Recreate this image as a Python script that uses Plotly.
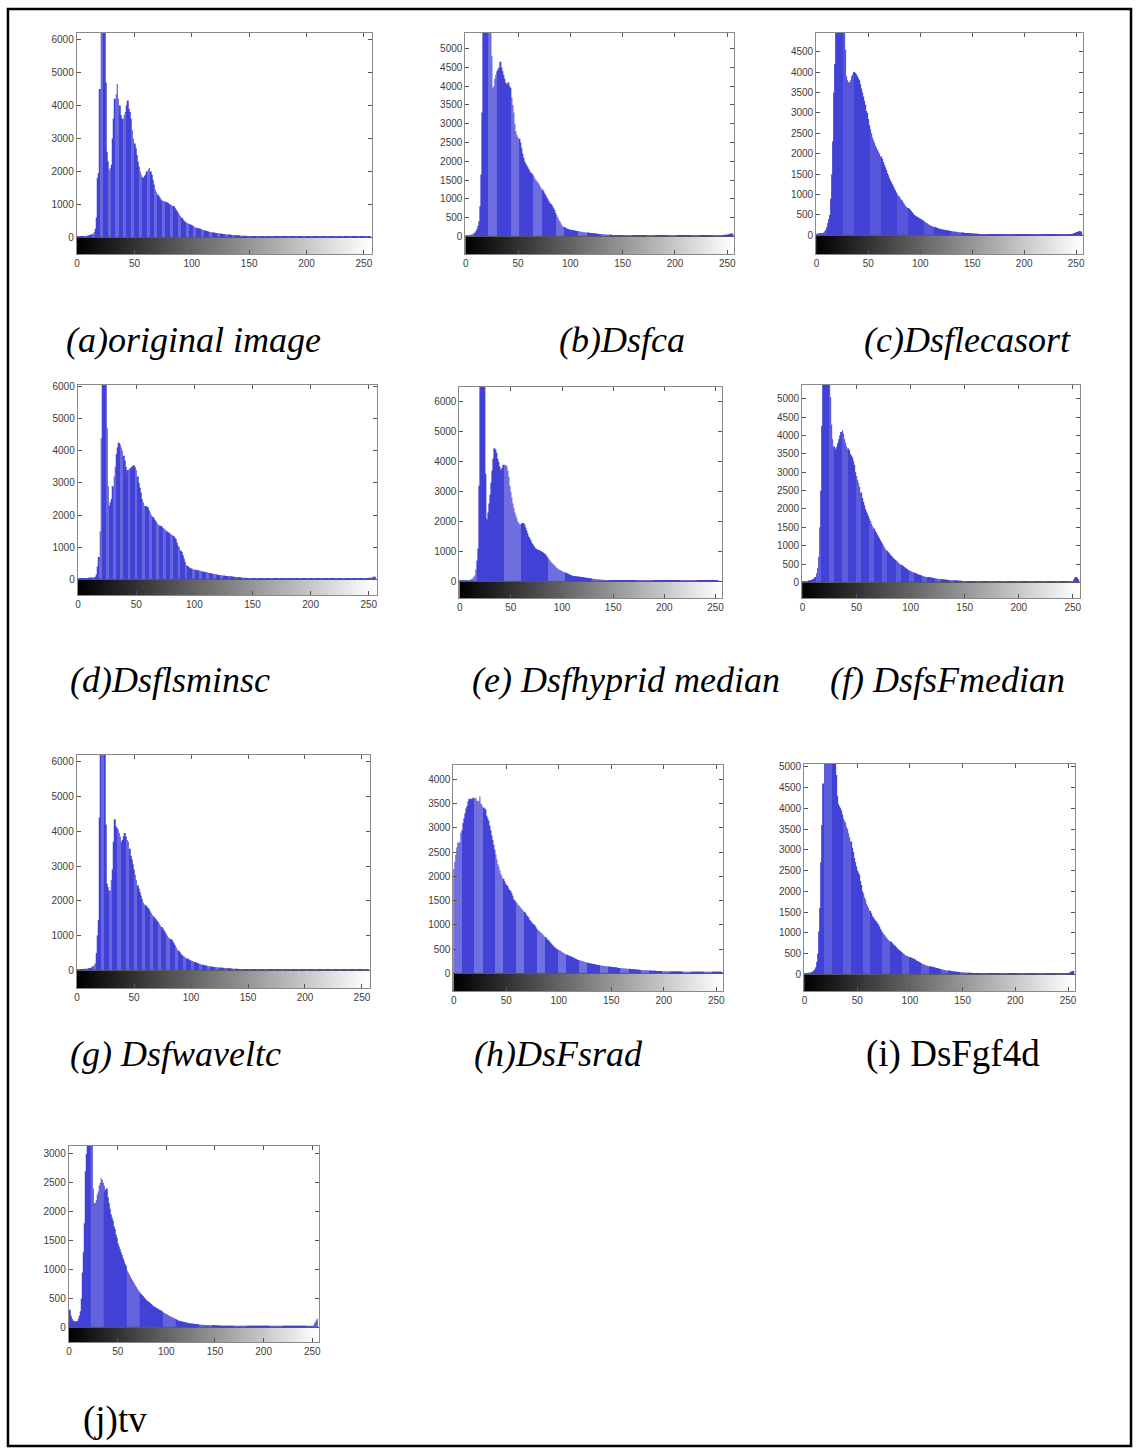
import plotly.graph_objects as go

W, H = 1137, 1448
GRAY_LEVELS = list(range(256))

ORIGINAL = [
    30, 30, 32, 34, 36, 38, 40, 44, 48, 52, 58, 66, 78, 95, 120, 160,
    260, 600, 1800, 1950, 4500, 7200, 7600, 7400, 6900, 4700, 2600, 2300, 2050, 2100, 2200, 3000,
    3600, 4200, 4350, 4650, 4200, 4000, 3700, 3600, 3600, 3700, 3800, 4000, 4150, 3900, 3800, 3600,
    3250, 3000, 2850, 2700, 2500, 2300, 2150, 2000, 1900, 1820, 1800, 1850, 1900, 2000, 2050, 2100,
    2000, 1900, 1750, 1600, 1450, 1380, 1300, 1250, 1200, 1150, 1120, 1100, 1100, 1080, 1060, 1050,
    1020, 1000, 980, 960, 950, 900, 850, 800, 750, 700, 650, 600, 550, 500, 480, 450,
    430, 420, 400, 380, 370, 350, 320, 300, 290, 280, 270, 260, 250, 240, 220, 210,
    200, 190, 180, 170, 160, 155, 150, 145, 140, 135, 130, 125, 120, 115, 110, 105,
    100, 98, 95, 90, 85, 82, 80, 75, 70, 68, 65, 62, 60, 58, 55, 52,
    50, 48, 45, 42, 40, 38, 35, 33, 32, 30, 30, 29, 28, 28, 27, 27,
    26, 26, 25, 25, 25, 24, 24, 24, 23, 23, 23, 22, 22, 22, 22, 22,
    21, 21, 22, 20, 21, 20, 21, 20, 19, 20, 21, 20, 19, 20, 21, 20,
    20, 19, 21, 20, 20, 19, 21, 20, 20, 19, 20, 21, 20, 19, 20, 20,
    21, 20, 19, 20, 20, 21, 20, 19, 20, 20, 21, 20, 19, 20, 20, 21,
    20, 19, 20, 21, 20, 20, 19, 20, 21, 20, 20, 19, 20, 21, 20, 20,
    19, 20, 21, 20, 20, 19, 20, 21, 20, 20, 21, 22, 24, 26, 28, 30,
]

DSFCA = [
    30, 32, 34, 36, 40, 45, 50, 60, 80, 100, 140, 200, 280, 400, 800, 1650,
    3300, 6000, 6500, 6800, 7000, 6800, 6600, 6200, 5800, 4800, 3950, 4000, 4200, 4300, 4400, 4450,
    4500, 4650, 4500, 4400, 4300, 4200, 4100, 4050, 4050, 4100, 4000, 3950, 3700, 3500, 3300, 3000,
    2800, 2700, 2650, 2600, 2500, 2350, 2200, 2100, 2000, 1950, 1900, 1850, 1800, 1750, 1700, 1680,
    1650, 1600, 1550, 1500, 1470, 1440, 1400, 1350, 1300, 1250, 1200, 1150, 1100, 1050, 1000, 950,
    900, 870, 850, 800, 750, 700, 620, 560, 500, 440, 400, 350, 300, 270, 250, 230,
    210, 200, 190, 180, 175, 170, 165, 160, 155, 150, 145, 140, 135, 130, 125, 120,
    115, 110, 108, 105, 100, 98, 95, 92, 88, 85, 80, 78, 75, 72, 70, 66,
    62, 60, 58, 56, 54, 52, 50, 48, 46, 44, 42, 40, 39, 38, 37, 36,
    35, 34, 33, 32, 31, 30, 30, 29, 29, 28, 28, 27, 27, 27, 26, 26,
    25, 26, 25, 24, 25, 26, 25, 24, 25, 25, 24, 25, 26, 25, 24, 25,
    25, 24, 25, 26, 25, 24, 25, 25, 26, 24, 25, 25, 24, 25, 26, 25,
    24, 25, 25, 26, 25, 24, 25, 25, 24, 26, 25, 24, 25, 25, 26, 25,
    25, 24, 26, 25, 25, 24, 25, 26, 25, 24, 25, 25, 26, 25, 24, 25,
    26, 25, 24, 25, 26, 25, 25, 24, 26, 25, 25, 26, 27, 28, 30, 32,
    30, 30, 32, 32, 34, 34, 36, 38, 40, 42, 45, 50, 60, 70, 75, 70,
]

DSFLECASORT = [
    40, 45, 50, 52, 55, 58, 60, 70, 100, 140, 200, 300, 400, 500, 900, 1500,
    2300, 3500, 4200, 5200, 5600, 5800, 6000, 6000, 5900, 5700, 5500, 5300, 4550, 3900, 3800, 3750,
    3750, 3800, 3900, 3950, 4000, 3980, 3950, 3900, 3850, 3800, 3700, 3600, 3500, 3400, 3300, 3200,
    3050, 3000, 2850, 2700, 2600, 2500, 2400, 2330, 2270, 2200, 2150, 2100, 2050, 2000, 1930, 1870,
    1800, 1730, 1670, 1600, 1530, 1470, 1400, 1350, 1300, 1250, 1200, 1150, 1100, 1050, 1000, 960,
    950, 900, 870, 850, 800, 760, 720, 700, 670, 650, 620, 590, 560, 530, 500, 480,
    470, 450, 435, 420, 405, 390, 380, 360, 340, 320, 305, 290, 270, 255, 240, 230,
    220, 210, 200, 190, 180, 170, 160, 155, 150, 145, 140, 135, 130, 125, 122, 120,
    115, 110, 105, 100, 95, 92, 90, 86, 82, 78, 75, 72, 70, 67, 64, 61,
    58, 56, 55, 52, 50, 48, 46, 44, 42, 40, 39, 38, 37, 36, 35, 34,
    33, 32, 31, 30, 30, 29, 29, 28, 28, 27, 27, 27, 26, 26, 26, 25,
    25, 26, 25, 24, 25, 26, 25, 24, 25, 25, 24, 25, 26, 25, 24, 25,
    25, 24, 25, 26, 25, 24, 25, 25, 26, 24, 25, 25, 24, 25, 26, 25,
    24, 25, 25, 26, 25, 24, 25, 25, 24, 26, 25, 24, 25, 25, 26, 25,
    25, 24, 26, 25, 25, 24, 25, 26, 25, 24, 25, 25, 26, 25, 24, 25,
    25, 25, 26, 27, 28, 30, 35, 40, 50, 60, 70, 80, 90, 100, 100, 90,
]

DSFLSMINSC = [
    30, 30, 32, 34, 36, 38, 40, 42, 45, 48, 52, 56, 60, 65, 70, 80,
    150, 400, 700, 1500, 4400, 6800, 7200, 7000, 6600, 4700, 2900, 2300, 2400, 2500, 2900, 3200,
    3500, 3900, 4100, 4250, 4200, 4100, 4000, 3850, 3700, 3500, 3300, 3400, 3450, 3450, 3500, 3520,
    3550, 3500, 3400, 3200, 3000, 2850, 2700, 2500, 2400, 2300, 2280, 2260, 2250, 2150, 2080, 2000,
    1950, 1900, 1850, 1800, 1750, 1700, 1680, 1660, 1650, 1600, 1580, 1550, 1500, 1470, 1450, 1430,
    1400, 1380, 1350, 1300, 1250, 1150, 1050, 1000, 900, 850, 750, 650, 550, 450, 420, 380,
    350, 340, 330, 320, 310, 300, 290, 280, 275, 270, 260, 250, 240, 230, 225, 220,
    210, 200, 190, 180, 175, 170, 160, 150, 145, 140, 135, 130, 125, 120, 115, 110,
    110, 105, 100, 95, 90, 85, 80, 75, 72, 70, 65, 62, 60, 57, 54, 50,
    48, 45, 43, 42, 40, 38, 37, 36, 35, 34, 33, 32, 31, 31, 30, 30,
    29, 30, 29, 28, 29, 30, 29, 28, 29, 29, 28, 29, 30, 29, 28, 29,
    29, 28, 29, 30, 29, 28, 29, 29, 30, 28, 29, 29, 28, 29, 30, 29,
    28, 29, 29, 30, 29, 28, 29, 29, 28, 30, 29, 28, 29, 29, 30, 29,
    29, 28, 30, 29, 29, 28, 29, 30, 29, 28, 29, 29, 30, 29, 28, 29,
    30, 29, 28, 29, 30, 29, 29, 28, 30, 29, 29, 30, 29, 28, 29, 30,
    30, 30, 30, 30, 30, 30, 30, 32, 34, 36, 40, 50, 60, 70, 80, 80,
]

DSFHYPRID_MEDIAN = [
    20, 22, 24, 26, 28, 30, 32, 34, 38, 42, 50, 60, 80, 100, 150, 200,
    400, 700, 1100, 3200, 6800, 7200, 7000, 6800, 6900, 3600, 2100, 2050, 2300, 2600, 2900, 3300,
    3700, 4100, 4450, 4400, 4300, 4100, 4000, 3850, 3750, 3700, 3800, 3900, 3900, 3880, 3850, 3700,
    3500, 3200, 3000, 2800, 2600, 2450, 2300, 2200, 2100, 2000, 1950, 1900, 1920, 1950, 1950, 1900,
    1800, 1700, 1600, 1500, 1450, 1380, 1300, 1250, 1200, 1150, 1100, 1080, 1060, 1050, 1040, 1020,
    1000, 980, 950, 920, 900, 850, 800, 750, 700, 660, 620, 590, 560, 520, 480, 450,
    420, 400, 380, 370, 350, 330, 310, 300, 280, 260, 250, 230, 215, 200, 190, 180,
    175, 170, 165, 160, 160, 155, 150, 145, 140, 135, 130, 125, 120, 115, 110, 105,
    100, 95, 90, 85, 80, 78, 75, 70, 68, 65, 60, 58, 55, 52, 50, 48,
    45, 42, 40, 38, 36, 35, 33, 31, 30, 28, 27, 26, 25, 24, 23, 22,
    21, 22, 21, 20, 21, 22, 21, 20, 21, 21, 20, 21, 22, 21, 20, 21,
    21, 20, 21, 22, 21, 20, 21, 21, 22, 20, 21, 21, 20, 21, 22, 21,
    20, 21, 21, 22, 21, 20, 21, 21, 20, 22, 21, 20, 21, 21, 22, 21,
    21, 20, 22, 21, 21, 20, 21, 22, 21, 20, 21, 21, 22, 21, 20, 21,
    20, 19, 20, 21, 20, 20, 19, 20, 21, 20, 20, 19, 20, 21, 20, 20,
    19, 20, 18, 19, 18, 17, 18, 17, 16, 17, 16, 15, 16, 15, 15, 15,
]

DSFSFMEDIAN = [
    30, 32, 34, 36, 40, 45, 50, 55, 60, 70, 90, 100, 150, 250, 400, 700,
    1500, 2500, 4270, 6000, 6500, 6800, 7000, 6800, 6500, 6000, 5045, 4300, 3900, 3700, 3600, 3650,
    3700, 3800, 3900, 4000, 4100, 4150, 4050, 3900, 3800, 3700, 3650, 3600, 3500, 3450, 3400, 3300,
    3200, 3000, 2900, 2800, 2700, 2600, 2450, 2300, 2200, 2100, 2000, 1930, 1870, 1800, 1730, 1670,
    1600, 1530, 1470, 1400, 1350, 1300, 1250, 1200, 1150, 1100, 1050, 1000, 950, 900, 860, 820,
    790, 750, 720, 690, 660, 640, 610, 590, 560, 530, 510, 480, 460, 440, 420, 400,
    380, 360, 340, 325, 310, 295, 280, 270, 255, 240, 230, 215, 205, 200, 190, 180,
    170, 160, 155, 150, 145, 140, 135, 130, 125, 120, 115, 110, 105, 100, 95, 90,
    90, 85, 80, 78, 75, 72, 70, 67, 64, 61, 58, 56, 55, 52, 50, 48,
    46, 45, 44, 42, 41, 40, 39, 38, 37, 36, 35, 34, 33, 32, 31, 30,
    30, 29, 28, 27, 26, 26, 25, 25, 25, 24, 24, 24, 23, 23, 23, 22,
    22, 21, 22, 23, 22, 21, 22, 22, 23, 21, 22, 22, 21, 22, 23, 22,
    21, 22, 22, 23, 22, 21, 22, 22, 21, 23, 22, 21, 22, 22, 23, 22,
    22, 21, 23, 22, 22, 21, 22, 23, 22, 21, 22, 22, 23, 22, 21, 22,
    21, 20, 21, 22, 21, 21, 20, 21, 22, 21, 21, 20, 21, 22, 21, 21,
    20, 20, 20, 20, 20, 20, 20, 20, 20, 22, 40, 80, 130, 150, 120, 80,
]

DSFWAVELTC = [
    30, 30, 32, 34, 36, 38, 40, 44, 48, 52, 56, 60, 70, 80, 110, 150,
    200, 500, 1000, 1450, 4400, 6800, 7300, 7000, 6600, 4200, 2500, 2400, 2300, 2300, 2600, 2900,
    3700, 4350, 4150, 4100, 4050, 3950, 3850, 3700, 3750, 3850, 3950, 3850, 3750, 3700, 3500, 3300,
    3200, 3050, 2900, 2750, 2600, 2450, 2350, 2250, 2150, 2050, 1950, 1900, 1870, 1830, 1800, 1760,
    1700, 1650, 1600, 1550, 1500, 1470, 1430, 1400, 1350, 1300, 1250, 1200, 1150, 1100, 1050, 1000,
    950, 920, 900, 880, 830, 780, 720, 660, 600, 560, 520, 480, 440, 410, 400, 360,
    340, 330, 310, 290, 280, 270, 260, 240, 230, 210, 200, 190, 180, 170, 160, 150,
    140, 135, 130, 125, 120, 112, 105, 100, 97, 94, 90, 87, 84, 80, 77, 74,
    71, 68, 65, 62, 60, 58, 55, 52, 50, 48, 46, 44, 42, 40, 38, 37,
    36, 35, 34, 33, 32, 31, 30, 29, 28, 28, 27, 27, 26, 26, 25, 25,
    24, 25, 24, 23, 24, 25, 24, 23, 24, 24, 23, 24, 25, 24, 23, 24,
    24, 23, 24, 25, 24, 23, 24, 24, 25, 23, 24, 24, 23, 24, 25, 24,
    23, 24, 24, 25, 24, 23, 24, 24, 23, 25, 24, 23, 24, 24, 25, 24,
    24, 23, 25, 24, 24, 23, 24, 25, 24, 23, 24, 24, 25, 24, 23, 24,
    23, 22, 23, 24, 23, 23, 22, 23, 24, 23, 23, 22, 23, 24, 23, 23,
    22, 23, 22, 23, 22, 22, 23, 22, 23, 22, 24, 26, 28, 30, 32, 34,
]

DSFSRAD = [
    2150, 2300, 2450, 2600, 2700, 2700, 2700, 2900, 2950, 3100, 3200, 3300, 3400, 3450, 3550, 3600,
    3580, 3600, 3600, 3620, 3600, 3620, 3560, 3560, 3550, 3650, 3500, 3480, 3420, 3400, 3380, 3250,
    3200, 3150, 3050, 2950, 2850, 2750, 2650, 2550, 2450, 2350, 2250, 2200, 2120, 2050, 2000, 1950,
    1900, 1850, 1820, 1800, 1750, 1720, 1700, 1650, 1600, 1530, 1500, 1480, 1450, 1420, 1400, 1380,
    1350, 1320, 1300, 1270, 1240, 1200, 1180, 1150, 1100, 1080, 1050, 1030, 1010, 990, 960, 920,
    900, 880, 860, 840, 820, 800, 780, 750, 720, 700, 680, 650, 630, 600, 580, 560,
    540, 520, 500, 490, 480, 470, 460, 440, 430, 420, 400, 390, 380, 370, 360, 350,
    340, 330, 320, 310, 300, 290, 280, 275, 270, 262, 255, 250, 242, 235, 230, 222,
    215, 210, 205, 200, 196, 190, 185, 180, 176, 172, 170, 166, 162, 160, 156, 153,
    150, 147, 144, 141, 138, 135, 132, 130, 127, 124, 121, 118, 115, 112, 110, 108,
    106, 104, 102, 100, 98, 96, 94, 92, 90, 88, 86, 84, 82, 80, 78, 76,
    74, 72, 70, 68, 66, 65, 64, 63, 62, 60, 58, 56, 55, 54, 53, 52,
    51, 50, 49, 48, 47, 46, 46, 45, 45, 44, 44, 43, 42, 41, 40, 40,
    39, 39, 38, 38, 37, 37, 37, 36, 36, 36, 35, 35, 35, 35, 34, 34,
    34, 33, 33, 33, 32, 32, 32, 31, 31, 31, 30, 30, 30, 30, 30, 30,
    30, 30, 30, 30, 31, 31, 32, 32, 33, 33, 34, 34, 35, 35, 35, 35,
]

DSFGF4D = [
    30, 32, 34, 36, 40, 45, 50, 60, 70, 90, 120, 170, 300, 500, 1030, 1600,
    2700, 3600, 4600, 5600, 6000, 6200, 6300, 6200, 6100, 6000, 5900, 5800, 5600, 5400, 4800, 4300,
    4100, 4050, 4000, 3950, 3850, 3750, 3700, 3650, 3550, 3500, 3400, 3300, 3200, 3050, 2950, 2800,
    2700, 2600, 2500, 2450, 2400, 2250, 2150, 2000, 1950, 1850, 1800, 1700, 1650, 1600, 1530, 1470,
    1400, 1370, 1330, 1300, 1270, 1230, 1200, 1150, 1100, 1050, 1010, 980, 950, 910, 880, 850,
    820, 800, 780, 750, 720, 700, 680, 650, 620, 600, 580, 560, 540, 520, 500, 480,
    460, 450, 440, 420, 410, 400, 390, 380, 370, 350, 335, 320, 310, 295, 280, 265,
    250, 240, 230, 220, 210, 200, 195, 190, 185, 180, 175, 170, 160, 155, 150, 140,
    135, 130, 125, 115, 110, 105, 100, 95, 90, 87, 85, 80, 75, 70, 68, 65,
    62, 60, 58, 55, 53, 50, 48, 46, 45, 44, 43, 41, 40, 38, 37, 35,
    34, 33, 32, 31, 30, 30, 29, 29, 28, 28, 28, 27, 27, 26, 26, 25,
    25, 24, 25, 24, 24, 23, 24, 23, 23, 22, 23, 22, 22, 23, 22, 22,
    22, 21, 22, 21, 22, 21, 21, 22, 21, 21, 20, 21, 21, 20, 21, 21,
    20, 21, 20, 21, 20, 20, 21, 20, 20, 21, 20, 20, 21, 20, 20, 21,
    20, 21, 20, 20, 21, 20, 20, 21, 20, 20, 21, 20, 20, 21, 20, 20,
    20, 20, 20, 20, 20, 20, 20, 20, 20, 22, 25, 30, 45, 60, 75, 80,
]

TV = [
    310, 300, 200, 150, 120, 110, 100, 100, 100, 110, 150, 200, 280, 500, 950, 1300,
    1800, 2700, 3000, 3400, 3600, 3700, 3600, 3400, 3200, 2400, 2150, 2150, 2200, 2300, 2350, 2450,
    2500, 2580, 2550, 2500, 2450, 2350, 2380, 2400, 2250, 2150, 2050, 1950, 1900, 1850, 1750, 1700,
    1600, 1550, 1450, 1400, 1350, 1300, 1250, 1200, 1150, 1100, 1070, 1030, 980, 950, 920, 880,
    850, 820, 790, 760, 730, 700, 670, 640, 620, 600, 580, 560, 540, 520, 500, 480,
    460, 450, 440, 420, 410, 390, 370, 360, 350, 340, 330, 320, 310, 300, 290, 280,
    270, 260, 250, 240, 230, 220, 210, 200, 190, 180, 175, 165, 155, 150, 140, 130,
    120, 115, 110, 105, 100, 95, 90, 88, 85, 80, 75, 72, 70, 67, 64, 62,
    60, 58, 56, 54, 52, 50, 48, 46, 45, 44, 43, 42, 41, 40, 40, 39,
    38, 37, 36, 36, 35, 35, 34, 33, 32, 31, 30, 29, 28, 28, 27, 26,
    25, 25, 24, 24, 23, 23, 23, 22, 22, 22, 22, 21, 21, 21, 21, 21,
    21, 20, 21, 20, 20, 21, 20, 20, 21, 20, 20, 21, 20, 20, 21, 20,
    20, 21, 20, 20, 21, 20, 20, 21, 20, 20, 21, 20, 20, 21, 20, 20,
    21, 20, 20, 21, 20, 20, 21, 20, 20, 21, 20, 20, 21, 20, 20, 21,
    20, 20, 21, 20, 20, 21, 20, 20, 21, 20, 20, 21, 20, 20, 21, 20,
    20, 20, 20, 20, 20, 20, 20, 20, 20, 20, 20, 30, 60, 90, 120, 150,
]

SERIES = [ORIGINAL, DSFCA, DSFLECASORT, DSFLSMINSC, DSFHYPRID_MEDIAN,
          DSFSFMEDIAN, DSFWAVELTC, DSFSRAD, DSFGF4D, TV]
CAPTIONS = ["(a)original image", "(b)Dsfca", "(c)Dsflecasort",
            "(d)Dsflsminsc", "(e) Dsfhyprid median", "(f) DsfsFmedian",
            "(g) Dsfwaveltc", "(h)DsFsrad", "(i) DsFgf4d", "(j)tv"]
X_TICKS = [0, 50, 100, 150, 200, 250]
Y_TICK_STEPS = [1000, 500, 500, 1000, 1000, 500, 1000, 500, 500, 500]
Y_TICK_MAX = [6000, 5000, 4500, 6000, 6000, 5000, 6000, 4000, 5000, 3000]

for s in SERIES:
    assert len(s) == 256, len(s)

# layout (pixels): box left, right, top, bottom (gray bar bottom), y max, y min
PANELS = [
    (75, 371, 29, 251, 6200, -514),
    (465, 735, 29, 251, 5420, -478),
    (817, 1085, 29, 251, 4960, -464),
    (76, 376, 382, 593, 6050, -496),
    (459, 723, 384, 596, 6500, -567),
    (803, 1082, 382, 596, 5380, -435),
    (75, 369, 753, 987, 6200, -517),
    (453, 724, 763, 990, 4300, -370),
    (805, 1077, 762, 990, 5070, -408),
    (67, 318, 1145, 1342, 3140, -259),
]
# caption: left x, center y, italic
CAPTION_POS = [
    (62, 337, True), (557, 337, True), (863, 337, True),
    (66, 678, True), (470, 678, True), (829, 678, True),
    (66, 1053, True), (472, 1053, True), (865, 1053, False),
    (79, 1420, False),
]

fig = go.Figure()
layout = dict(
    width=W, height=H, margin=dict(l=0, r=0, t=0, b=0),
    paper_bgcolor="white", plot_bgcolor="white", showlegend=False,
)
shapes = []
annotations = []
edges = [g - 0.5 for g in GRAY_LEVELS] + [257]
AX_COL = "#8a8a8a"
TICK_FONT = dict(family="Liberation Sans, Arial", size=10, color="#3c3c3c")

for i, (vals, (L, R, T, B, ymax, ymin)) in enumerate(zip(SERIES, PANELS)):
    suf = "" if i == 0 else str(i + 1)
    xa, ya = f"x{suf}", f"y{suf}"
    fig.add_trace(go.Heatmap(
        z=[GRAY_LEVELS], x=edges, y=[ymin, 0], xaxis=xa, yaxis=ya,
        colorscale=[[0, "black"], [1, "white"]], zmin=0, zmax=255,
        showscale=False, hoverinfo="skip"))
    fig.add_trace(go.Bar(
        x=GRAY_LEVELS, y=vals, xaxis=xa, yaxis=ya, width=0.62,
        marker=dict(color="rgb(66,66,214)", line=dict(width=0))))
    step = Y_TICK_STEPS[i]
    yt = list(range(0, Y_TICK_MAX[i] + 1, step))
    layout[f"xaxis{suf}"] = dict(
        domain=[L / W, R / W], anchor=ya, range=[-0.3, 256.8],
        tickvals=X_TICKS, ticks="inside", ticklen=4, tickcolor="#555",
        showline=True, linecolor=AX_COL, linewidth=1, mirror="allticks",
        showgrid=False, zeroline=False, tickfont=TICK_FONT, fixedrange=True)
    layout[f"yaxis{suf}"] = dict(
        domain=[1 - B / H, 1 - T / H], anchor=xa, range=[ymin, ymax],
        tickvals=yt, ticks="inside", ticklen=4, tickcolor="#555",
        showline=True, linecolor=AX_COL, linewidth=1, mirror="allticks",
        showgrid=False, zeroline=False, tickfont=TICK_FONT, fixedrange=True)
    shapes.append(dict(type="line", xref=f"{xa} domain", yref=ya,
                       x0=0, x1=1, y0=0, y1=0, layer="above",
                       line=dict(color="#555", width=1)))

for text, (cx, cy, ital) in zip(CAPTIONS, CAPTION_POS):
    annotations.append(dict(
        text=text, xref="paper", yref="paper", x=cx / W, y=1 - cy / H,
        xanchor="left", yanchor="middle", showarrow=False,
        font=dict(family="Liberation Serif, Times New Roman", size=36 if ital else 37,
                  color="black", style="italic" if ital else "normal")))

shapes.append(dict(type="rect", xref="paper", yref="paper",
                   x0=6 / W, x1=1133 / W, y0=1 - 1446 / H, y1=1 - 5 / H,
                   line=dict(color="black", width=2.5), layer="above"))

layout["shapes"] = shapes
layout["annotations"] = annotations
fig.update_layout(**layout)
fig.write_html("out.html")
